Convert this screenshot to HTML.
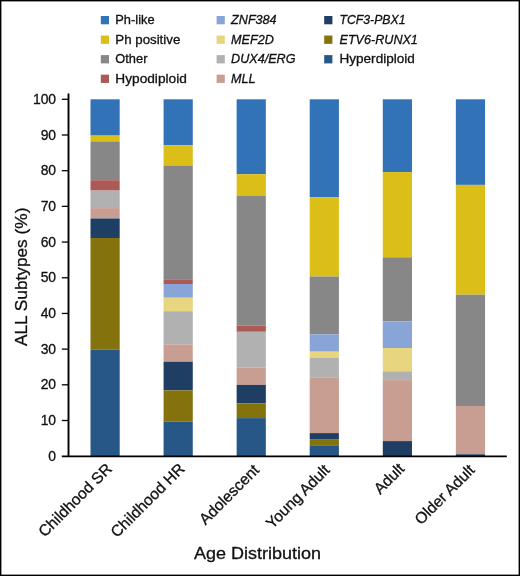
<!DOCTYPE html>
<html><head><meta charset="utf-8"><style>
html,body{margin:0;padding:0;background:#fff;}
body{width:520px;height:576px;overflow:hidden;position:relative;}
svg{position:absolute;left:0;top:0;display:block;will-change:transform;}
text{font-family:"Liberation Sans",sans-serif;fill:#111;stroke:#111;stroke-width:0.3px;}
</style></head><body>
<svg width="520" height="576" viewBox="0 0 520 576">
<rect x="0" y="0" width="520" height="576" fill="#fff"/>

<rect x="90.50" y="99.30" width="29.2" height="36.30" fill="#3273b7"/>
<rect x="90.50" y="135.60" width="29.2" height="5.80" fill="#dcbe18"/>
<rect x="90.50" y="141.40" width="29.2" height="38.80" fill="#878787"/>
<rect x="90.50" y="180.20" width="29.2" height="10.40" fill="#ab5a56"/>
<rect x="90.50" y="190.60" width="29.2" height="17.50" fill="#b1b1b2"/>
<rect x="90.50" y="208.10" width="29.2" height="10.40" fill="#c99e92"/>
<rect x="90.50" y="218.50" width="29.2" height="19.50" fill="#1e3e64"/>
<rect x="90.50" y="238.00" width="29.2" height="111.70" fill="#84720d"/>
<rect x="90.50" y="349.70" width="29.2" height="106.50" fill="#265786"/>
<rect x="163.57" y="99.30" width="29.2" height="45.90" fill="#3273b7"/>
<rect x="163.57" y="145.20" width="29.2" height="20.30" fill="#dcbe18"/>
<rect x="163.57" y="165.50" width="29.2" height="113.80" fill="#878787"/>
<rect x="163.57" y="279.30" width="29.2" height="4.70" fill="#ab5a56"/>
<rect x="163.57" y="284.00" width="29.2" height="13.70" fill="#89a5d7"/>
<rect x="163.57" y="297.70" width="29.2" height="13.50" fill="#e8d580"/>
<rect x="163.57" y="311.20" width="29.2" height="33.20" fill="#b1b1b2"/>
<rect x="163.57" y="344.40" width="29.2" height="17.30" fill="#c99e92"/>
<rect x="163.57" y="361.70" width="29.2" height="28.70" fill="#1e3e64"/>
<rect x="163.57" y="390.40" width="29.2" height="31.20" fill="#84720d"/>
<rect x="163.57" y="421.60" width="29.2" height="34.60" fill="#265786"/>
<rect x="236.64" y="99.30" width="29.2" height="74.90" fill="#3273b7"/>
<rect x="236.64" y="174.20" width="29.2" height="21.80" fill="#dcbe18"/>
<rect x="236.64" y="196.00" width="29.2" height="129.50" fill="#878787"/>
<rect x="236.64" y="325.50" width="29.2" height="6.30" fill="#ab5a56"/>
<rect x="236.64" y="331.80" width="29.2" height="35.90" fill="#b1b1b2"/>
<rect x="236.64" y="367.70" width="29.2" height="17.20" fill="#c99e92"/>
<rect x="236.64" y="384.90" width="29.2" height="18.50" fill="#1e3e64"/>
<rect x="236.64" y="403.40" width="29.2" height="14.70" fill="#84720d"/>
<rect x="236.64" y="418.10" width="29.2" height="38.10" fill="#265786"/>
<rect x="309.71" y="99.30" width="29.2" height="98.10" fill="#3273b7"/>
<rect x="309.71" y="197.40" width="29.2" height="79.10" fill="#dcbe18"/>
<rect x="309.71" y="276.50" width="29.2" height="57.90" fill="#878787"/>
<rect x="309.71" y="334.40" width="29.2" height="17.30" fill="#89a5d7"/>
<rect x="309.71" y="351.70" width="29.2" height="6.20" fill="#e8d580"/>
<rect x="309.71" y="357.90" width="29.2" height="19.40" fill="#b1b1b2"/>
<rect x="309.71" y="377.30" width="29.2" height="55.80" fill="#c99e92"/>
<rect x="309.71" y="433.10" width="29.2" height="6.00" fill="#1e3e64"/>
<rect x="309.71" y="439.10" width="29.2" height="6.20" fill="#84720d"/>
<rect x="309.71" y="445.30" width="29.2" height="10.90" fill="#265786"/>
<rect x="382.78" y="99.30" width="29.2" height="72.80" fill="#3273b7"/>
<rect x="382.78" y="172.10" width="29.2" height="85.20" fill="#dcbe18"/>
<rect x="382.78" y="257.30" width="29.2" height="64.10" fill="#878787"/>
<rect x="382.78" y="321.40" width="29.2" height="26.60" fill="#89a5d7"/>
<rect x="382.78" y="348.00" width="29.2" height="23.30" fill="#e8d580"/>
<rect x="382.78" y="371.30" width="29.2" height="8.80" fill="#b1b1b2"/>
<rect x="382.78" y="380.10" width="29.2" height="61.00" fill="#c99e92"/>
<rect x="382.78" y="441.10" width="29.2" height="15.10" fill="#1e3e64"/>
<rect x="455.85" y="99.30" width="29.2" height="85.60" fill="#3273b7"/>
<rect x="455.85" y="184.90" width="29.2" height="109.80" fill="#dcbe18"/>
<rect x="455.85" y="294.70" width="29.2" height="111.30" fill="#878787"/>
<rect x="455.85" y="406.00" width="29.2" height="48.30" fill="#c99e92"/>
<rect x="455.85" y="454.30" width="29.2" height="1.90" fill="#1e3e64"/>
<line x1="68.5" y1="93.4" x2="68.5" y2="457.09999999999997" stroke="#000" stroke-width="1.9"/>
<line x1="61.8" y1="456.45" x2="506.8" y2="456.45" stroke="#000" stroke-width="1.7"/>
<line x1="61.8" y1="420.51" x2="68.5" y2="420.51" stroke="#000" stroke-width="1.3"/>
<line x1="61.8" y1="384.82" x2="68.5" y2="384.82" stroke="#000" stroke-width="1.3"/>
<line x1="61.8" y1="349.13" x2="68.5" y2="349.13" stroke="#000" stroke-width="1.3"/>
<line x1="61.8" y1="313.44" x2="68.5" y2="313.44" stroke="#000" stroke-width="1.3"/>
<line x1="61.8" y1="277.75" x2="68.5" y2="277.75" stroke="#000" stroke-width="1.3"/>
<line x1="61.8" y1="242.06" x2="68.5" y2="242.06" stroke="#000" stroke-width="1.3"/>
<line x1="61.8" y1="206.37" x2="68.5" y2="206.37" stroke="#000" stroke-width="1.3"/>
<line x1="61.8" y1="170.68" x2="68.5" y2="170.68" stroke="#000" stroke-width="1.3"/>
<line x1="61.8" y1="134.99" x2="68.5" y2="134.99" stroke="#000" stroke-width="1.3"/>
<line x1="61.8" y1="99.30" x2="68.5" y2="99.30" stroke="#000" stroke-width="1.3"/>
<text x="56.1" y="460.80" font-size="13.9" text-anchor="end">0</text>
<text x="56.1" y="425.11" font-size="13.9" text-anchor="end">10</text>
<text x="56.1" y="389.42" font-size="13.9" text-anchor="end">20</text>
<text x="56.1" y="353.73" font-size="13.9" text-anchor="end">30</text>
<text x="56.1" y="318.04" font-size="13.9" text-anchor="end">40</text>
<text x="56.1" y="282.35" font-size="13.9" text-anchor="end">50</text>
<text x="56.1" y="246.66" font-size="13.9" text-anchor="end">60</text>
<text x="56.1" y="210.97" font-size="13.9" text-anchor="end">70</text>
<text x="56.1" y="175.28" font-size="13.9" text-anchor="end">80</text>
<text x="56.1" y="139.59" font-size="13.9" text-anchor="end">90</text>
<text x="56.1" y="103.90" font-size="13.9" text-anchor="end">100</text>
<text transform="translate(26.9,346.1) rotate(-90)" font-size="17.1" textLength="138.5" lengthAdjust="spacingAndGlyphs">ALL Subtypes (%)</text>
<text x="194.0" y="558.7" font-size="16.9" textLength="127.0" lengthAdjust="spacingAndGlyphs">Age Distribution</text>
<text transform="translate(112.90,469.80) rotate(-45)" font-size="15.6" text-anchor="end">Childhood SR</text>
<text transform="translate(185.77,469.70) rotate(-45)" font-size="15.6" text-anchor="end">Childhood HR</text>
<text transform="translate(260.14,471.00) rotate(-45)" font-size="15.6" text-anchor="end">Adolescent</text>
<text transform="translate(330.61,471.00) rotate(-45)" font-size="15.6" text-anchor="end">Young Adult</text>
<text transform="translate(405.38,469.80) rotate(-45)" font-size="15.6" text-anchor="end">Adult</text>
<text transform="translate(475.55,471.00) rotate(-45)" font-size="15.6" text-anchor="end">Older Adult</text>
<rect x="100.8" y="16.00" width="8.2" height="8.3" fill="#3273b7"/>
<text x="115.3" y="24.00" font-size="12.85">Ph-like</text>
<rect x="100.8" y="35.55" width="8.2" height="8.3" fill="#dcbe18"/>
<text x="115.3" y="43.55" font-size="12.85" textLength="65.0" lengthAdjust="spacingAndGlyphs">Ph positive</text>
<rect x="100.8" y="55.10" width="8.2" height="8.3" fill="#878787"/>
<text x="115.3" y="63.10" font-size="12.85">Other</text>
<rect x="100.8" y="74.65" width="8.2" height="8.3" fill="#ab5a56"/>
<text x="115.3" y="82.65" font-size="12.85" textLength="71.5" lengthAdjust="spacingAndGlyphs">Hypodiploid</text>
<rect x="216.6" y="16.00" width="8.2" height="8.3" fill="#89a5d7"/>
<text x="231.1" y="24.00" font-size="12.6" font-style="italic">ZNF384</text>
<rect x="216.6" y="35.55" width="8.2" height="8.3" fill="#e8d580"/>
<text x="231.1" y="43.55" font-size="12.6" font-style="italic">MEF2D</text>
<rect x="216.6" y="55.10" width="8.2" height="8.3" fill="#b1b1b2"/>
<text x="231.1" y="63.10" font-size="12.6" font-style="italic">DUX4/ERG</text>
<rect x="216.6" y="74.65" width="8.2" height="8.3" fill="#c99e92"/>
<text x="231.1" y="82.65" font-size="12.6" font-style="italic">MLL</text>
<rect x="324.2" y="16.00" width="8.2" height="8.3" fill="#1e3e64"/>
<text x="339.5" y="24.00" font-size="12.6" font-style="italic" textLength="66.0" lengthAdjust="spacingAndGlyphs">TCF3-PBX1</text>
<rect x="324.2" y="35.55" width="8.2" height="8.3" fill="#84720d"/>
<text x="339.5" y="43.55" font-size="12.6" font-style="italic">ETV6-RUNX1</text>
<rect x="324.2" y="55.10" width="8.2" height="8.3" fill="#265786"/>
<text x="339.5" y="63.10" font-size="12.85" textLength="75.3" lengthAdjust="spacingAndGlyphs">Hyperdiploid</text>
<rect x="0.7" y="0.7" width="518.6" height="574.6" fill="none" stroke="#000" stroke-width="1.4"/>
</svg>
</body></html>
